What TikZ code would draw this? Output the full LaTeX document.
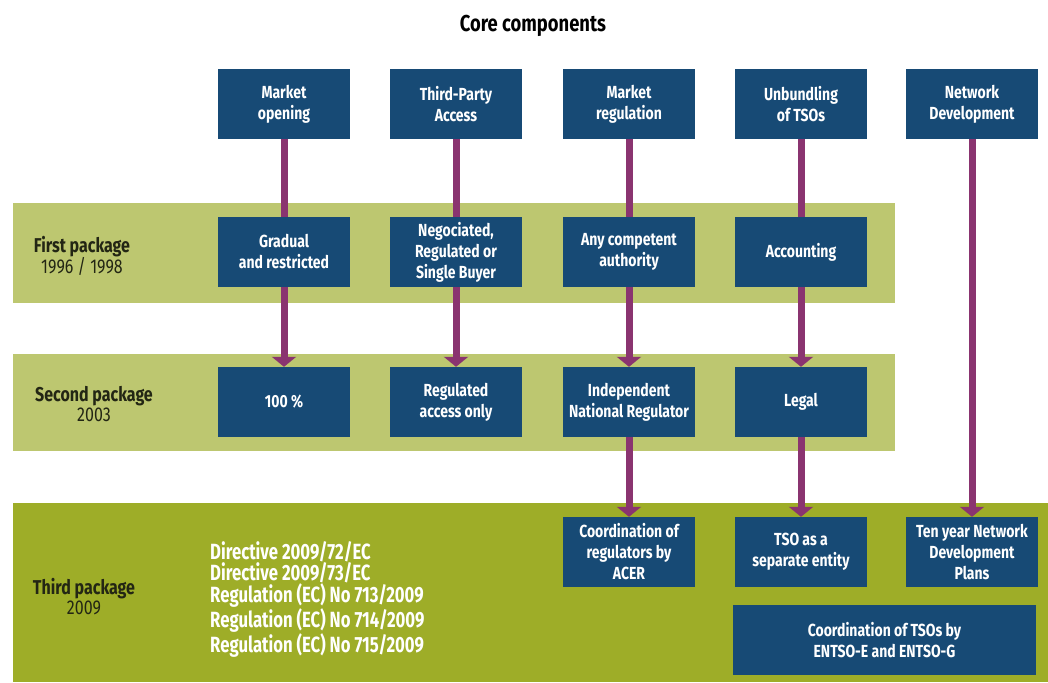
\documentclass[tikz,border=0pt]{standalone}
\usepackage{fontspec}
\setmainfont{Fira Sans}[FakeStretch=0.8]
\usepackage{tikz}
\usetikzlibrary{arrows.meta}
\definecolor{boxblue}{RGB}{23,74,117}
\definecolor{bandlight}{RGB}{189,199,112}
\definecolor{banddark}{RGB}{158,173,40}
\definecolor{linkpurple}{RGB}{138,52,112}
\definecolor{pkgtext}{RGB}{35,38,20}

\begin{document}
\begin{tikzpicture}[x=1pt,y=1pt,yscale=-1,xscale=1,
    comp/.style={fill=boxblue,text=white,align=center,inner sep=2pt,
      minimum width=132pt,minimum height=70pt,font=\fontsize{17.5}{21}\selectfont\bfseries},
    link/.style={draw=linkpurple,line width=7pt},
    linkarr/.style={link,-{Triangle[width=24pt,length=10pt]}},
    pkg/.style={text=pkgtext,align=center,font=\fontsize{20}{20}\selectfont}]
        \useasboundingbox (0,0) rectangle (1048,682);
        \fill [bandlight] (13,203) rectangle (895,303);
        \fill [bandlight] (13,354) rectangle (895,451);
        \fill [banddark] (13,503) rectangle (1048,682);

        \node (title) at (533,26) [text=black,font=\fontsize{23}{26}\selectfont\bfseries] {Core components};

        \node (mopen) at (284,104) [comp] {Market\\opening};
        \node (tpa) at (456,104) [comp] {Third-Party\\Access};
        \node (mreg) at (629,104) [comp] {Market\\regulation};
        \node (unb) at (801,104) [comp] {Unbundling\\of TSOs};
        \node (netdev) at (972,104) [comp] {Network\\Development};

        \node (first) at (82,256) [pkg] {\textbf{First package}\\1996 / 1998};
        \node (gradual) at (284,252) [comp] {Gradual\\and restricted};
        \node (negoc) at (456,252) [comp] {Negociated,\\Regulated or\\Single Buyer};
        \node (anyauth) at (629,252) [comp] {Any competent\\authority};
        \node (account) at (801,252) [comp] {Accounting};

        \node (second) at (94,404) [pkg] {\textbf{Second package}\\2003};
        \node (full) at (284,402) [comp] {100 \%};
        \node (regacc) at (456,402) [comp] {Regulated\\access only};
        \node (inr) at (629,402) [comp] {Independent\\National Regulator};
        \node (legal) at (801,402) [comp] {Legal};

        \node (third) at (84,597) [pkg] {\textbf{Third package}\\2009};
        \node (acts) at (210,599) [anchor=west,text=white,align=left,inner sep=0pt,font=\fontsize{22}{21}\selectfont\bfseries\addfontfeature{FakeStretch=0.76}] {Directive 2009/72/EC\\Directive 2009/73/EC\\Regulation (EC) No 713/2009\\Regulation (EC) No 714/2009\\Regulation (EC) No 715/2009};
        \node (acer) at (629,552) [comp] {Coordination of\\regulators by\\ACER};
        \node (tsosep) at (801,552) [comp] {TSO as a\\separate entity};
        \node (tyndp) at (972,552) [comp] {Ten year Network\\Development\\Plans};
        \node (entso) at (884.5,640) [comp,minimum width=303pt] {Coordination of TSOs by\\ENTSO-E and ENTSO-G};

        \draw [link] (mopen) -- (gradual);
        \draw [link] (tpa) -- (negoc);
        \draw [link] (mreg) -- (anyauth);
        \draw [link] (unb) -- (account);
        \draw [linkarr] (gradual) -- (full);
        \draw [linkarr] (negoc) -- (regacc);
        \draw [linkarr] (anyauth) -- (inr);
        \draw [linkarr] (account) -- (legal);
        \draw [linkarr] (inr) -- (acer);
        \draw [linkarr] (legal) -- (tsosep);
        \draw [linkarr] (netdev) -- (tyndp);

\end{tikzpicture}
\end{document}
